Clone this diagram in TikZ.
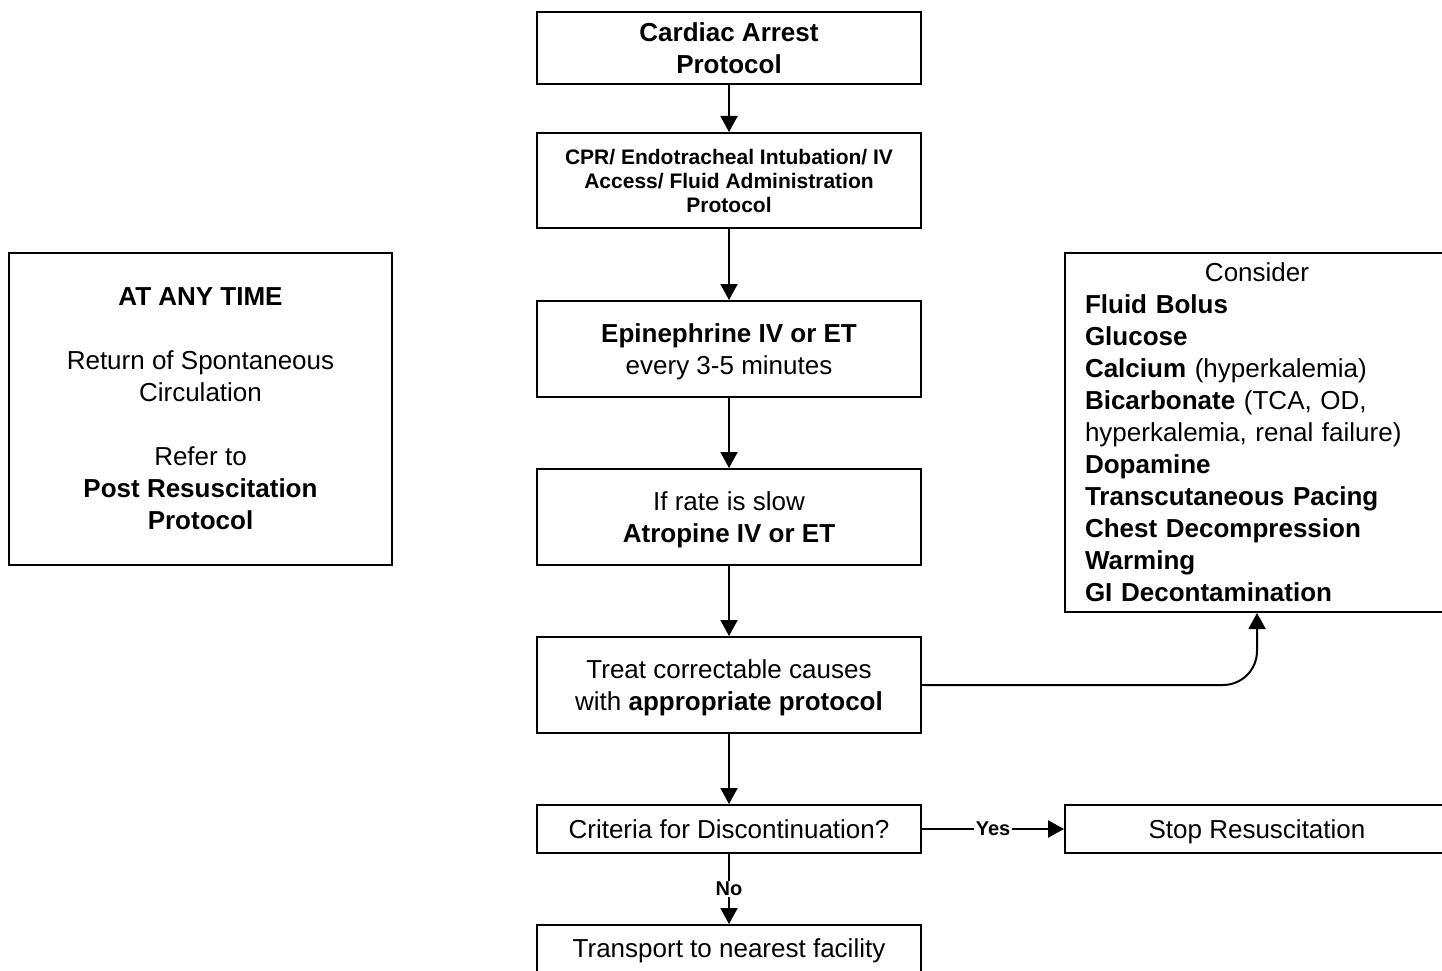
\documentclass[tikz,border=0pt]{standalone}
\usepackage{fontspec}
\setmainfont{Liberation Sans}
\usetikzlibrary{arrows.meta}
\begin{document}
\begin{tikzpicture}[x=1pt,y=-1pt,
  every node/.style={font=\fontsize{26}{32}\selectfont},
  frame/.style={draw,line width=2pt,inner sep=0pt,minimum width=384pt},
  box/.style={frame,align=center,text depth=0pt},
  flow/.style={line width=2pt,-{Triangle[length=16pt,width=17pt]}},
  lbl/.style={fill=white,inner sep=1.5pt,font=\fontsize{20}{24}\selectfont\bfseries}]
\useasboundingbox (0,0) rectangle (1442,971);

% main column
\node[box,minimum height=72pt] (arrest) at (729,48) {\textbf{Cardiac Arrest}\\\textbf{Protocol}};
\node[box,minimum height=95pt,text depth=-4pt,font=\fontsize{21}{24}\selectfont\bfseries] (cpr) at (729,180.5)
  {CPR/ Endotracheal Intubation/ IV\\Access/ Fluid Administration\\Protocol};
\node[box,minimum height=96pt] (epi) at (729,349) {\textbf{Epinephrine IV or ET}\\every 3-5 minutes};
\node[box,minimum height=96pt] (atro) at (729,517) {If rate is slow\\\textbf{Atropine IV or ET}};
\node[box,minimum height=96pt] (treat) at (729,685) {Treat correctable causes\\with \textbf{appropriate protocol}};
\node[box,minimum height=48pt] (crit) at (729,829) {Criteria for Discontinuation?};
\node[box,minimum height=50pt,text depth=3.5pt] (trans) at (729,950) {Transport to nearest facility};

% side boxes
\node[box,minimum height=48pt] (stop) at (1257,829) {Stop Resuscitation};
\node[box,minimum height=312pt,minimum width=383pt] (anytime) at (200.5,409)
  {\textbf{AT ANY TIME}\\[32pt]Return of Spontaneous\\Circulation\\[32pt]Refer to\\\textbf{Post Resuscitation}\\\textbf{Protocol}};
\node[frame,minimum height=359pt,text width=344pt,align=left] (consider) at (1257,432.5)
  {\makebox[344pt][c]{Consider}\\
   \textbf{Fluid Bolus}\\
   \textbf{Glucose}\\
   \textbf{Calcium} (hyperkalemia)\\
   \textbf{Bicarbonate} (TCA, OD,\\
   hyperkalemia, renal failure)\\
   \textbf{Dopamine}\\
   \textbf{Transcutaneous Pacing}\\
   \textbf{Chest Decompression}\\
   \textbf{Warming}\\
   \textbf{GI Decontamination}};

% connectors
\draw[flow] (arrest) -- (cpr);
\draw[flow] (cpr) -- (epi);
\draw[flow] (epi) -- (atro);
\draw[flow] (atro) -- (treat);
\draw[flow] (treat) -- (crit);
\draw[flow] (crit) -- node[lbl] (no) {No} (trans);
\draw[flow] (crit) -- node[lbl] (yes) {Yes} (stop);
\draw[flow,rounded corners=34pt] (treat.east) -| (consider.south);
\end{tikzpicture}
\end{document}
